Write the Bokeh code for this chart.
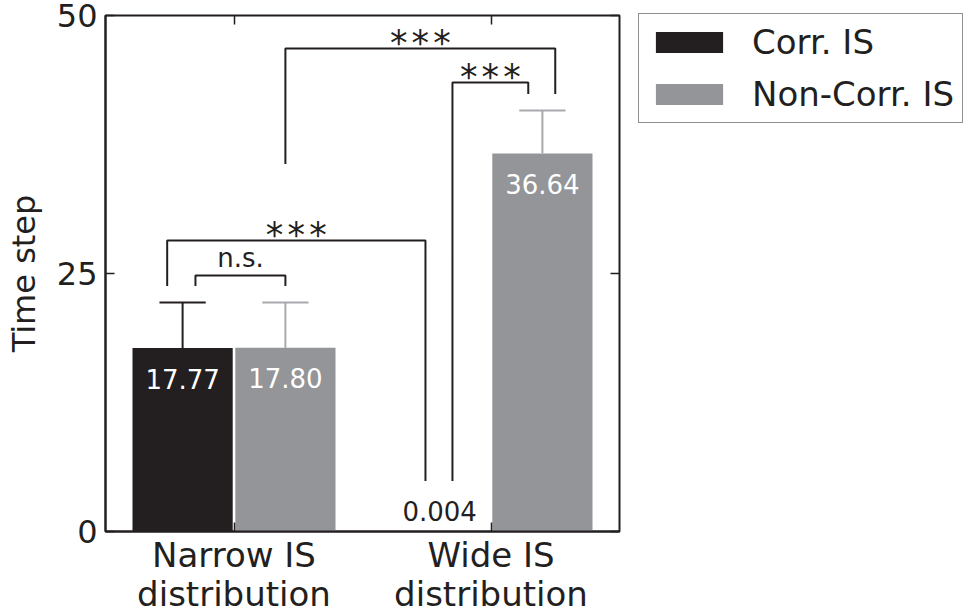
from bokeh.plotting import figure
from bokeh.models import (Range1d, FixedTicker, LinearAxis, Legend, LegendItem,
                          ColumnDataSource)
from bokeh.core.properties import value
from bokeh.embed import file_html
from bokeh.resources import INLINE

# ---- data ----
group_labels = ["Narrow IS", "Wide IS"]
group_labels_2 = ["distribution", "distribution"]
group_pos = [1, 2]
series_names = ["Corr. IS", "Non-Corr. IS"]
corr_vals = [17.77, 0.004]
noncorr_vals = [17.80, 36.64]
corr_err = [4.43, 0.0]
noncorr_err = [4.40, 4.16]
corr_text = ["17.77", "0.004"]
noncorr_text = ["17.80", "36.64"]
y_ticks = [0, 25, 50]

# significance brackets (data units)
br_x0 = [0.85, 0.74, 1.85, 1.20]
br_x1 = [1.20, 1.745, 2.145, 2.25]
br_top = [24.8, 28.2, 43.5, 46.8]
br_y0 = [23.8, 23.8, 4.9, 35.6]
br_y1 = [23.8, 4.9, 42.4, 42.4]
br_text = ["n.s.", "***", "***", "***"]

# ---- style ----
FONT_NAME = "DejaVu Sans"
FONT = value(FONT_NAME)
DARK = "#231f20"
GRAY = "#939598"
GRAY_ERR = "#a7a9ac"
OFF = 0.2
BW = 0.39
CAP = 0.18
STAR_PITCH = 21.7

p = figure(frame_width=514, frame_height=516,
           x_range=Range1d(0.5, 2.5), y_range=Range1d(0, 50),
           output_backend="svg", toolbar_location=None,
           min_border_left=105, min_border_top=15, min_border_right=349,
           min_border_bottom=83)
p.background_fill_color = "white"
p.border_fill_color = "white"
p.grid.visible = False
p.outline_line_color = DARK
p.outline_line_width = 2

renderers = []
for vals, errs, texts, off, col, ecol in [
        (corr_vals, corr_err, corr_text, -OFF, DARK, DARK),
        (noncorr_vals, noncorr_err, noncorr_text, OFF, GRAY, GRAY_ERR)]:
    xs = [g + off for g in group_pos]
    src = ColumnDataSource(dict(x=xs, top=vals))
    r = p.vbar(x="x", top="top", width=BW, source=src, fill_color=col,
               line_color=None)
    renderers.append(r)
    ex = [x for x, e in zip(xs, errs) if e > 0]
    ev = [v for v, e in zip(vals, errs) if e > 0]
    ee = [v + e for v, e in zip(vals, errs) if e > 0]
    p.segment(x0=ex, y0=ev, x1=ex, y1=ee, line_color=ecol, line_width=2)
    p.segment(x0=[x - CAP / 2 for x in ex], y0=ee,
              x1=[x + CAP / 2 for x in ex], y1=ee, line_color=ecol, line_width=2)
    ty = [v - 2.95 if v > 5 else v + 2.0 for v in vals]
    tc = ["white" if v > 5 else DARK for v in vals]
    p.text(x=xs, y=ty, text=texts, text_color=tc, text_font=FONT,
           text_font_size="26px", text_align="center",
           text_baseline="alphabetic")

# brackets
bx = [[a, a, b, b] for a, b in zip(br_x0, br_x1)]
by = [[y0, t, t, y1] for y0, t, y1 in zip(br_y0, br_top, br_y1)]
p.multi_line(xs=bx, ys=by, line_color=DARK, line_width=2)

ns_x, ns_y, ns_t = [], [], []
st_x, st_y, st_off = [], [], []
for a, b, t, s in zip(br_x0, br_x1, br_top, br_text):
    cx = (a + b) / 2
    if s == "n.s.":
        ns_x.append(cx); ns_y.append(t + 1.75); ns_t.append(s)
    else:
        n = len(s)
        for i in range(n):
            st_x.append(cx); st_y.append(t + 0.5)
            st_off.append((i - (n - 1) / 2) * STAR_PITCH)
p.text(x=ns_x, y=ns_y, text=ns_t, text_color=DARK, text_font=FONT,
       text_font_size="26px", text_align="center", text_baseline="alphabetic")
star_src = ColumnDataSource(dict(x=st_x, y=st_y, off=st_off,
                                 t=["*"] * len(st_x)))
p.text(x="x", y="y", text="t", x_offset="off", source=star_src,
       text_color=DARK, text_font=FONT, text_font_size="35px",
       text_align="center", text_baseline="alphabetic")

# axes
yax = p.yaxis[0]
yax.ticker = FixedTicker(ticks=y_ticks)
yax.axis_label = "Time step"
xax = p.xaxis[0]
xax.ticker = FixedTicker(ticks=group_pos)
xax.major_label_overrides = {g: l for g, l in zip(group_pos, group_labels)}
for ax in (yax, xax):
    ax.axis_line_color = DARK
    ax.axis_line_width = 2
    ax.major_tick_in = 9
    ax.major_tick_out = 0
    ax.major_tick_line_color = DARK
    ax.major_tick_line_width = 1.5
    ax.minor_tick_line_color = None
    ax.major_label_text_font = FONT_NAME
    ax.major_label_text_color = DARK
    ax.axis_label_text_font = FONT_NAME
    ax.axis_label_text_color = DARK
    ax.axis_label_text_font_style = "normal"
yax.major_label_text_font_size = "32px"
yax.major_label_standoff = 8
yax.axis_label_text_font_size = "32px"
yax.axis_label_standoff = 11
xax.major_label_text_font_size = "34px"
xax.major_label_standoff = 3

xax2 = LinearAxis(ticker=FixedTicker(ticks=group_pos),
                  major_label_overrides={g: l for g, l in zip(group_pos, group_labels_2)},
                  axis_line_color=None, major_tick_line_color=None,
                  minor_tick_line_color=None, major_tick_in=0, major_tick_out=0,
                  major_label_text_font=FONT_NAME, major_label_text_color=DARK,
                  major_label_text_font_size="34px", major_label_standoff=-4)
p.add_layout(xax2, "below")

for loc, ticks in (("right", y_ticks), ("above", group_pos)):
    ax = LinearAxis(ticker=FixedTicker(ticks=ticks), axis_line_color=None,
                    major_tick_in=9, major_tick_out=0,
                    major_tick_line_color=DARK, major_tick_line_width=1.5,
                    minor_tick_line_color=None,
                    major_label_text_font_size="0px", major_label_standoff=0)
    p.add_layout(ax, loc)

legend = Legend(items=[LegendItem(label=n, renderers=[r])
                       for n, r in zip(series_names, renderers)],
                location=(-189, 408), orientation="vertical",
                glyph_width=84, glyph_height=26, label_standoff=21,
                padding=8, spacing=12, margin=0,
                label_text_font=FONT_NAME, label_text_font_size="34px",
                label_text_color=DARK,
                border_line_color=DARK, border_line_width=1.5,
                background_fill_color="white", background_fill_alpha=1)
p.add_layout(legend, "right")

open("out.html", "w").write(file_html(p, INLINE))
